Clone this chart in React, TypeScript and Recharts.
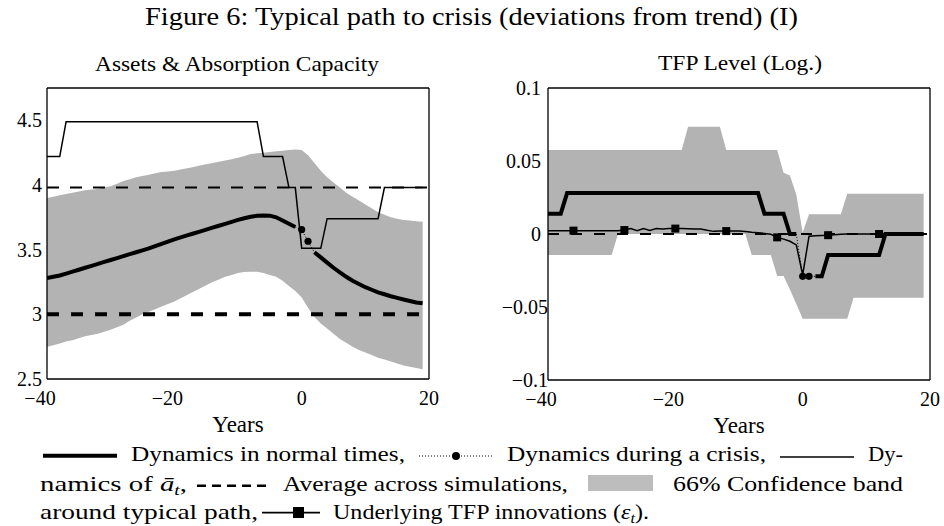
import React from 'react';
import { ComposedChart, Line, Area, XAxis, YAxis, ReferenceLine } from 'recharts';

const FONT = "'Liberation Serif', 'Times New Roman', serif";

// ---------- categories ----------
const years = [
  -40, -39, -38, -37, -36, -35, -34, -33, -32, -31, -30, -29, -28, -27, -26, -25, -24, -23, -22, -21,
  -20, -19, -18, -17, -16, -15, -14, -13, -12, -11, -10, -9, -8, -7, -6, -5, -4, -3, -2, -1,
  0, 1, 2, 3, 4, 5, 6, 7, 8, 9, 10, 11, 12, 13, 14, 15, 16, 17, 18, 19,
];

// ---------- left panel: Assets & Absorption Capacity ----------
const assetsNormal = [
  3.28, 3.29, 3.3, 3.315, 3.33, 3.345, 3.36, 3.375, 3.39, 3.405, 3.42, 3.435, 3.45, 3.465, 3.48, 3.495, 3.51, 3.528, 3.545, 3.563,
  3.58, 3.595, 3.61, 3.625, 3.64, 3.655, 3.67, 3.685, 3.7, 3.715, 3.73, 3.743, 3.755, 3.762, 3.765, 3.763, 3.75, 3.725, 3.7, 3.675,
  null, null, 3.48, 3.44, 3.4, 3.36, 3.325, 3.29, 3.26, 3.235, 3.21, 3.19, 3.17, 3.155, 3.14, 3.127, 3.115, 3.103, 3.092, 3.085,
];
const assetsCrisis = [
  null, null, null, null, null, null, null, null, null, null, null, null, null, null, null, null, null, null, null, null,
  null, null, null, null, null, null, null, null, null, null, null, null, null, null, null, null, null, null, null, 3.675,
  3.655, 3.565, 3.48, null, null, null, null, null, null, null, null, null, null, null, null, null, null, null, null, null,
];
const abarPath = [
  4.22, 4.22, 4.22, 4.49, 4.49, 4.49, 4.49, 4.49, 4.49, 4.49, 4.49, 4.49, 4.49, 4.49, 4.49, 4.49, 4.49, 4.49, 4.49, 4.49,
  4.49, 4.49, 4.49, 4.49, 4.49, 4.49, 4.49, 4.49, 4.49, 4.49, 4.49, 4.49, 4.49, 4.49, 4.22, 4.22, 4.22, 4.22, 3.98, 3.98,
  3.51, 3.51, 3.51, 3.51, 3.74, 3.74, 3.74, 3.74, 3.74, 3.74, 3.74, 3.74, 3.74, 3.98, 3.98, 3.98, 3.98, 3.98, 3.98, 3.98,
];
const assetsBandLow = [
  2.75, 2.76, 2.775, 2.79, 2.8, 2.815, 2.83, 2.84, 2.85, 2.865, 2.88, 2.9, 2.92, 2.95, 2.975, 3.0, 3.02, 3.04, 3.06, 3.08,
  3.1, 3.125, 3.15, 3.175, 3.2, 3.225, 3.25, 3.27, 3.29, 3.305, 3.32, 3.328, 3.33, 3.33, 3.32, 3.305, 3.29, 3.26, 3.22, 3.18,
  3.13, 3.05, 2.98, 2.93, 2.89, 2.85, 2.81, 2.78, 2.75, 2.725, 2.705, 2.685, 2.665, 2.65, 2.635, 2.62, 2.605, 2.595, 2.585, 2.575,
];
const assetsBandHigh = [
  3.9, 3.91, 3.92, 3.93, 3.94, 3.95, 3.96, 3.965, 3.97, 3.98, 3.99, 4.01, 4.03, 4.045, 4.06, 4.07, 4.08, 4.09, 4.1, 4.105,
  4.11, 4.12, 4.13, 4.14, 4.15, 4.16, 4.17, 4.18, 4.19, 4.2, 4.21, 4.225, 4.24, 4.245, 4.25, 4.255, 4.26, 4.265, 4.27, 4.275,
  4.27, 4.23, 4.17, 4.11, 4.06, 4.02, 3.98, 3.94, 3.91, 3.88, 3.85, 3.82, 3.79, 3.77, 3.75, 3.74, 3.73, 3.725, 3.72, 3.715,
];
const assetsAverage = 3.0;
const abarAverage = 3.98;

// ---------- right panel: TFP Level (Log.) ----------
const tfpNormal = [
  0.0139, 0.0139, 0.0139, 0.028, 0.028, 0.028, 0.028, 0.028, 0.028, 0.028, 0.028, 0.028, 0.028, 0.028, 0.028, 0.028, 0.028, 0.028, 0.028, 0.028,
  0.028, 0.028, 0.028, 0.028, 0.028, 0.028, 0.028, 0.028, 0.028, 0.028, 0.028, 0.028, 0.028, 0.028, 0.0139, 0.0139, 0.0139, 0.0139, 0, 0,
  null, null, -0.029, -0.029, -0.0144, -0.0144, -0.0144, -0.0144, -0.0144, -0.0144, -0.0144, -0.0144, -0.0144, 0, 0, 0, 0, 0, 0, 0,
];
const tfpCrisis = [
  null, null, null, null, null, null, null, null, null, null, null, null, null, null, null, null, null, null, null, null,
  null, null, null, null, null, null, null, null, null, null, null, null, null, null, null, null, null, null, null, 0,
  -0.029, -0.029, -0.029, null, null, null, null, null, null, null, null, null, null, null, null, null, null, null, null, null,
];
const tfpInnovations = [
  0.0022, 0.0022, 0.0022, 0.0022, 0.0023, 0.0022, 0.0022, 0.0022, 0.0022, 0.0022, 0.0022, 0.0023, 0.0027, 0.0038, 0.0022, 0.0038, 0.0025, 0.0038, 0.0035, 0.0037,
  0.0037, 0.0037, 0.0036, 0.0035, 0.0034, 0.0025, 0.0018, 0.002, 0.002, 0.002, 0.002, 0.0017, 0.0012, 0.0008, 0.0004, -0.0002, -0.0023, -0.0035, -0.005, -0.0075,
  -0.028, -0.0015, -0.0012, -0.001, -0.0008, -0.0005, -0.0002, 0, 0, 0, 0, 0, 0, 0, 0, 0, 0, 0, 0, 0,
];
const tfpBandLow = [
  -0.0144, -0.0144, -0.0144, -0.0144, -0.0144, -0.0144, -0.0144, -0.0144, -0.0144, -0.0144, -0.0144, 0, 0, 0, 0, 0, 0, 0, 0, 0,
  0, 0, 0, 0, 0, 0, 0, 0, 0, 0, 0, 0, -0.0144, -0.0144, -0.0144, -0.0144, -0.0288, -0.0288, -0.038, -0.048,
  -0.058, -0.058, -0.058, -0.058, -0.058, -0.058, -0.058, -0.058, -0.0436, -0.0436, -0.0436, -0.0436, -0.0436, -0.0436, -0.0436, -0.0436, -0.0436, -0.0436, -0.0436, -0.0436,
];
const tfpBandHigh = [
  0.0575, 0.0575, 0.0575, 0.0575, 0.0575, 0.0575, 0.0575, 0.0575, 0.0575, 0.0575, 0.0575, 0.0575, 0.0575, 0.0575, 0.0575, 0.0575, 0.0575, 0.0575, 0.0575, 0.0575,
  0.0575, 0.0575, 0.0735, 0.0735, 0.0735, 0.0735, 0.0735, 0.0735, 0.0575, 0.0575, 0.0575, 0.0575, 0.0575, 0.0575, 0.0575, 0.0575, 0.0575, 0.042, 0.04, 0.027,
  0.001, 0.0135, 0.0135, 0.0135, 0.0135, 0.0135, 0.0135, 0.0276, 0.0276, 0.0276, 0.0276, 0.0276, 0.0276, 0.0276, 0.0276, 0.0276, 0.0276, 0.0276, 0.0276, 0.0276,
];
const tfpAverage = 0;

const crisisDotYears = [0, 1];
const innovationMarkerYears = [-36, -28, -20, -12, -4, 4, 12];

// ---------- ticks ----------
const xTicks = [-40, -20, 0, 20];
const assetsTicks = [2.5, 3, 3.5, 4, 4.5];
const tfpTicks = [-0.1, -0.05, 0, 0.05, 0.1];

const assetsData = years.map((year, i) => ({
  year,
  normal: assetsNormal[i],
  crisis: assetsCrisis[i],
  abar: abarPath[i],
  band: [assetsBandLow[i], assetsBandHigh[i]],
  dotOn: crisisDotYears.includes(year),
}));

const tfpData = years.map((year, i) => ({
  year,
  normal: tfpNormal[i],
  crisis: tfpCrisis[i],
  innov: tfpInnovations[i],
  band: [tfpBandLow[i], tfpBandHigh[i]],
  dotOn: crisisDotYears.includes(year),
  markOn: innovationMarkerYears.includes(year),
}));

const fmt = (v: number) => String(v).replace('-', '\u2212');

const XTick = (props: any) => {
  const { x, y, payload } = props;
  const v = payload.value;
  return (
    <text x={x + (v < 0 ? -7 : 0)} y={y} dy="0.71em" textAnchor="middle" fontFamily={FONT} fontSize={20} fill="#000">
      {fmt(v)}
    </text>
  );
};

const YTick = (props: any) => {
  const { x, y, payload } = props;
  const v = payload.value;
  return (
    <text x={x + (v < 0 ? 7 : 0)} y={y} dy="0.35em" textAnchor="end" fontFamily={FONT} fontSize={20} fill="#000">
      {fmt(v)}
    </text>
  );
};

const crisisDot = (p: any) =>
  p.payload && p.payload.dotOn && p.cy != null ? (
    <circle key={`cd-${p.index}`} cx={p.cx} cy={p.cy} r={3.6} fill="#000" />
  ) : (
    <g key={`cd-${p.index}`} />
  );

const squareDot = (p: any) =>
  p.payload && p.payload.markOn && p.cy != null ? (
    <rect key={`sq-${p.index}`} x={p.cx - 4} y={p.cy - 4} width={8} height={8} fill="#000" />
  ) : (
    <g key={`sq-${p.index}`} />
  );

const BAND = '#b3b3b3';
const axisLine = { stroke: '#000', strokeWidth: 1.3 };
const tickLineStyle = { stroke: '#000', strokeWidth: 1 };

export default function App() {
  return (
    <div style={{ position: 'absolute', left: 0, top: 0, width: 944, height: 526, background: '#fff', overflow: 'hidden', fontFamily: FONT }}>
      {/* Left panel */}
      <div style={{ position: 'absolute', left: 0, top: 0 }}>
        <ComposedChart width={472} height={526} data={assetsData} margin={{ top: 88, right: 43, bottom: 94, left: 7 }} style={{ fontFamily: FONT }}>
          <XAxis
            xAxisId="main" dataKey="year" type="number" domain={[-40, 20]} ticks={xTicks} interval={0}
            tick={XTick} tickLine={false} tickSize={0} tickMargin={12} axisLine={axisLine} height={53}
            allowDataOverflow
            label={{ value: 'Years', position: 'insideBottom', offset: 0, fill: '#000', fontSize: 23, fontFamily: FONT }}
          />
          <XAxis xAxisId="bt" type="number" domain={[-40, 20]} ticks={xTicks} interval={0} orientation="bottom" mirror tick={false} tickSize={5} axisLine={false} tickLine={tickLineStyle} allowDataOverflow />
          <XAxis xAxisId="tp" type="number" domain={[-40, 20]} ticks={xTicks} interval={0} orientation="top" mirror tick={false} tickSize={5} axisLine={axisLine} tickLine={tickLineStyle} allowDataOverflow />
          <YAxis
            yAxisId="main" type="number" domain={[2.5, 4.75]} ticks={assetsTicks} interval={0}
            tick={YTick} tickLine={false} tickSize={0} tickMargin={5} axisLine={axisLine} width={40} allowDataOverflow
          />
          <YAxis yAxisId="lt" type="number" domain={[2.5, 4.75]} ticks={assetsTicks} interval={0} orientation="left" mirror tick={false} tickSize={5} axisLine={false} tickLine={tickLineStyle} allowDataOverflow />
          <YAxis yAxisId="rt" type="number" domain={[2.5, 4.75]} ticks={assetsTicks} interval={0} orientation="right" mirror tick={false} tickSize={5} axisLine={axisLine} tickLine={tickLineStyle} allowDataOverflow />

          <Area xAxisId="main" yAxisId="main" dataKey="band" type="linear" fill={BAND} fillOpacity={1} stroke="none" isAnimationActive={false} activeDot={false} />
          <ReferenceLine xAxisId="main" yAxisId="main" y={abarAverage} stroke="#000" strokeWidth={2} strokeDasharray="12 11" ifOverflow="hidden" />
          <ReferenceLine xAxisId="main" yAxisId="main" y={assetsAverage} stroke="#000" strokeWidth={4} strokeDasharray="12 12" ifOverflow="hidden" />
          <Line xAxisId="main" yAxisId="main" dataKey="abar" type="linear" stroke="#000" strokeWidth={1.5} dot={false} activeDot={false} isAnimationActive={false} />
          <Line xAxisId="main" yAxisId="main" dataKey="normal" type="linear" stroke="#000" strokeWidth={4} dot={false} activeDot={false} connectNulls={false} isAnimationActive={false} />
          <Line xAxisId="main" yAxisId="main" dataKey="crisis" type="linear" stroke="#000" strokeWidth={1} strokeDasharray="1 2" dot={crisisDot} activeDot={false} connectNulls={false} isAnimationActive={false} />
        </ComposedChart>
      </div>

      {/* Right panel */}
      <div style={{ position: 'absolute', left: 472, top: 0 }}>
        <ComposedChart width={472} height={526} data={tfpData} margin={{ top: 88, right: 14, bottom: 93, left: 16 }} style={{ fontFamily: FONT }}>
          <XAxis
            xAxisId="main" dataKey="year" type="number" domain={[-40, 20]} ticks={xTicks} interval={0}
            tick={XTick} tickLine={false} tickSize={0} tickMargin={12} axisLine={axisLine} height={53}
            allowDataOverflow
            label={{ value: 'Years', position: 'insideBottom', offset: 0, fill: '#000', fontSize: 23, fontFamily: FONT }}
          />
          <XAxis xAxisId="bt" type="number" domain={[-40, 20]} ticks={xTicks} interval={0} orientation="bottom" mirror tick={false} tickSize={5} axisLine={false} tickLine={tickLineStyle} allowDataOverflow />
          <XAxis xAxisId="tp" type="number" domain={[-40, 20]} ticks={xTicks} interval={0} orientation="top" mirror tick={false} tickSize={5} axisLine={axisLine} tickLine={tickLineStyle} allowDataOverflow />
          <YAxis
            yAxisId="main" type="number" domain={[-0.1, 0.1]} ticks={tfpTicks} interval={0}
            tick={YTick} tickLine={false} tickSize={0} tickMargin={7} axisLine={axisLine} width={60} allowDataOverflow
          />
          <YAxis yAxisId="lt" type="number" domain={[-0.1, 0.1]} ticks={tfpTicks} interval={0} orientation="left" mirror tick={false} tickSize={5} axisLine={false} tickLine={tickLineStyle} allowDataOverflow />
          <YAxis yAxisId="rt" type="number" domain={[-0.1, 0.1]} ticks={tfpTicks} interval={0} orientation="right" mirror tick={false} tickSize={5} axisLine={axisLine} tickLine={tickLineStyle} allowDataOverflow />

          <Area xAxisId="main" yAxisId="main" dataKey="band" type="linear" fill={BAND} fillOpacity={1} stroke="none" isAnimationActive={false} activeDot={false} />
          <ReferenceLine xAxisId="main" yAxisId="main" y={tfpAverage} stroke="#000" strokeWidth={2} strokeDasharray="11 12" ifOverflow="hidden" />
          <Line xAxisId="main" yAxisId="main" dataKey="normal" type="linear" stroke="#000" strokeWidth={4} dot={false} activeDot={false} connectNulls={false} isAnimationActive={false} />
          <Line xAxisId="main" yAxisId="main" dataKey="innov" type="linear" stroke="#000" strokeWidth={1.5} dot={squareDot} activeDot={false} isAnimationActive={false} />
          <Line xAxisId="main" yAxisId="main" dataKey="crisis" type="linear" stroke="#000" strokeWidth={1} strokeDasharray="1 2" dot={crisisDot} activeDot={false} connectNulls={false} isAnimationActive={false} />
        </ComposedChart>
      </div>

      {/* Titles and legend */}
      <svg width={944} height={526} style={{ position: 'absolute', left: 0, top: 0, pointerEvents: 'none' }} fontFamily={FONT} fill="#000">
        <text x={145} y={25} fontSize={25} textLength={653} lengthAdjust="spacingAndGlyphs">
          Figure 6: Typical path to crisis (deviations from trend) (I)
        </text>
        <text x={95} y={71} fontSize={22} textLength={284} lengthAdjust="spacingAndGlyphs">
          Assets &amp; Absorption Capacity
        </text>
        <text x={658} y={70} fontSize={22} textLength={164} lengthAdjust="spacingAndGlyphs">
          TFP Level (Log.)
        </text>

        {/* legend line 1 */}
        <line x1={43} x2={117} y1={455.7} y2={455.7} stroke="#000" strokeWidth={4} />
        <text x={131} y={461} fontSize={22} textLength={274} lengthAdjust="spacingAndGlyphs">Dynamics in normal times,</text>
        <line x1={419} x2={493} y1={456} y2={456} stroke="#000" strokeWidth={1} strokeDasharray="1 2" />
        <circle cx={456} cy={456} r={4} fill="#000" />
        <text x={507} y={461} fontSize={22} textLength={259} lengthAdjust="spacingAndGlyphs">Dynamics during a crisis,</text>
        <line x1={780} x2={854} y1={457} y2={457} stroke="#000" strokeWidth={1.6} />
        <text x={868} y={461} fontSize={22} textLength={35} lengthAdjust="spacingAndGlyphs">Dy-</text>

        {/* legend line 2 */}
        <text x={40} y={491} fontSize={22} textLength={147} lengthAdjust="spacingAndGlyphs">
          namics of <tspan fontStyle="italic">ā</tspan>
          <tspan fontStyle="italic" fontSize={15} dy={4}>t</tspan>
          <tspan dy={-4}>,</tspan>
        </text>
        <line x1={197} x2={267} y1={485.7} y2={485.7} stroke="#000" strokeWidth={2.5} strokeDasharray="9 6" />
        <text x={283} y={491} fontSize={22} textLength={285} lengthAdjust="spacingAndGlyphs">Average across simulations,</text>
        <rect x={588} y={475} width={65} height={16} fill="#bdbdbd" />
        <text x={673} y={491} fontSize={22} textLength={230} lengthAdjust="spacingAndGlyphs">66% Confidence band</text>

        {/* legend line 3 */}
        <text x={40} y={519} fontSize={22} textLength={218} lengthAdjust="spacingAndGlyphs">around typical path,</text>
        <line x1={262} x2={320} y1={512.7} y2={512.7} stroke="#000" strokeWidth={1.8} />
        <rect x={293} y={507} width={11} height={11} fill="#000" />
        <text x={333} y={519} fontSize={22} textLength={316} lengthAdjust="spacingAndGlyphs">
          Underlying TFP innovations (<tspan fontStyle="italic">ε</tspan>
          <tspan fontStyle="italic" fontSize={15} dy={4}>t</tspan>
          <tspan dy={-4}>).</tspan>
        </text>
      </svg>
    </div>
  );
}
